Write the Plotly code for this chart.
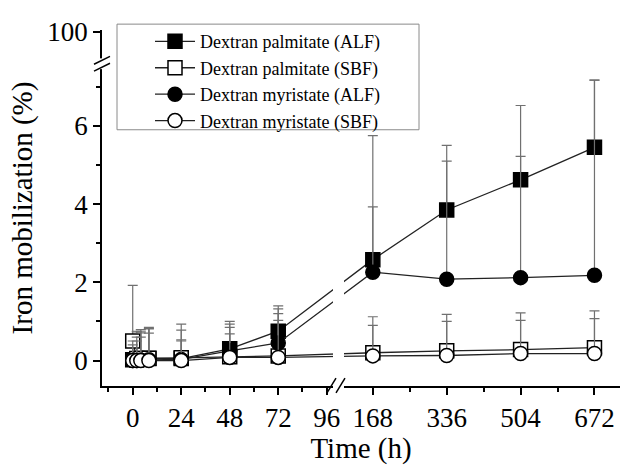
import plotly.graph_objects as go

# Sampling times (h)
time_h = [0, 2, 4, 8, 24, 48, 72, 168, 336, 504, 672]

# Iron mobilization (%) and upper standard deviations
pal_alf = [0.02, 0.03, 0.04, 0.05, 0.05, 0.30, 0.75, 2.58, 3.85, 4.62, 5.45]
pal_alf_err = [0.60, 0.70, 0.75, 0.80, 0.88, 0.70, 0.65, 3.17, 1.65, 1.90, 1.72]

pal_sbf = [0.50, 0.05, 0.05, 0.06, 0.07, 0.10, 0.12, 0.20, 0.25, 0.28, 0.33]
pal_sbf_err = [1.42, 0.70, 0.70, 0.75, 0.71, 0.75, 1.08, 0.92, 0.93, 0.94, 0.94]

myr_alf = [0.00, 0.00, 0.01, 0.02, 0.03, 0.25, 0.45, 2.26, 2.08, 2.12, 2.18]
myr_alf_err = [0.50, 0.60, 0.70, 0.80, 0.50, 0.68, 0.87, 1.67, 3.02, 3.10, 4.99]

myr_sbf = [0.00, 0.00, 0.00, 0.00, 0.00, 0.08, 0.08, 0.12, 0.13, 0.18, 0.18]
myr_sbf_err = [0.40, 0.50, 0.60, 0.70, 0.50, 0.60, 0.95, 0.78, 0.87, 0.85, 0.89]

series_names = [
    "Dextran palmitate (ALF)",
    "Dextran palmitate (SBF)",
    "Dextran myristate (ALF)",
    "Dextran myristate (SBF)",
]
series_values = [pal_alf, pal_sbf, myr_alf, myr_sbf]
series_errors = [pal_alf_err, pal_sbf_err, myr_alf_err, myr_sbf_err]
series_symbols = ["square", "square", "circle", "circle"]
series_fill = ["black", "white", "black", "white"]

x_major_ticks = [0, 24, 48, 72, 96, 168, 336, 504, 672]
x_minor_ticks = [-12, 12, 36, 60, 84, 252, 420, 588]
y_major_ticks = [0, 2, 4, 6]
y_minor_ticks = [1, 3, 5, 7]
y_top_tick = 100

# Broken time axis: 0-96 h at full scale, 168-672 h compressed
RIGHT_START = 168
RIGHT_OFFSET = 118.8
RIGHT_SCALE = 0.2176


def tpos(t):
    return t if t <= 100 else RIGHT_OFFSET + (t - RIGHT_START) * RIGHT_SCALE


# Broken value axis: 0-7.6 % linear, then a single 100 % mark
Y_TOP_POS = 8.4


def ypos(v):
    return v if v <= 7.6 else Y_TOP_POS


FONT = "Liberation Serif"

# plot box in pixels
W, H = 628, 465
L, R, T, B = 102, 620, 30, 394


def px(xp):
    return (xp - L) / (R - L)


def py(yp):
    return (B - yp) / (B - T)


fig = go.Figure()
for name, vals, errs, sym, fill in zip(series_names, series_values, series_errors,
                                       series_symbols, series_fill):
    fig.add_trace(go.Scatter(
        x=[tpos(t) for t in time_h],
        y=vals,
        name=name,
        mode="lines+markers",
        line=dict(color="#222222", width=1.3),
        marker=dict(symbol=sym, size=14, color=fill,
                    line=dict(color="black", width=1.5)),
        error_y=dict(type="data", symmetric=False, array=errs,
                     arrayminus=[0] * len(errs), color="#707070",
                     thickness=1.2, width=5),
    ))

shapes = []
# gap through the data lines and the x axis at the time break
shapes.append(dict(type="rect", xref="paper", yref="paper",
                   x0=px(333), x1=px(344), y0=py(402), y1=py(150),
                   fillcolor="white", line=dict(width=0), layer="above"))
for x0, x1 in [(327, 336), (336, 345)]:
    shapes.append(dict(type="line", xref="paper", yref="paper",
                       x0=px(x0), y0=py(401), x1=px(x1), y1=py(386),
                       line=dict(color="black", width=1.5), layer="above"))
# gap in the y axis at the value break
shapes.append(dict(type="rect", xref="paper", yref="paper",
                   x0=px(96), x1=px(109), y0=py(70), y1=py(59),
                   fillcolor="white", line=dict(width=0), layer="above"))
for y0, y1 in [(65, 57), (72, 64)]:
    shapes.append(dict(type="line", xref="paper", yref="paper",
                       x0=px(94), y0=py(y0), x1=px(110), y1=py(y1),
                       line=dict(color="black", width=1.5), layer="above"))
# legend frame
shapes.append(dict(type="rect", xref="paper", yref="paper",
                   x0=px(117), x1=px(419), y0=py(132), y1=py(24),
                   line=dict(color="#8a8a8a", width=1), fillcolor="rgba(0,0,0,0)",
                   layer="above"))

fig.update_layout(
    width=W, height=H,
    margin=dict(l=L, r=W - R, t=T, b=H - B),
    paper_bgcolor="white", plot_bgcolor="white",
    font=dict(family=FONT, color="black"),
    showlegend=True,
    legend=dict(x=px(150), y=py(23), xanchor="left", yanchor="top",
                bgcolor="rgba(0,0,0,0)", borderwidth=0,
                itemwidth=40, tracegroupgap=0,
                font=dict(family=FONT, size=18, color="black"),
                itemclick=False),
    shapes=shapes,
    xaxis=dict(
        range=[-15.2, 241.1],
        showgrid=False, zeroline=False,
        showline=True, linecolor="black", linewidth=1.5,
        ticks="outside", ticklen=7, tickwidth=1.5, tickcolor="black",
        tickvals=[tpos(t) for t in x_major_ticks],
        ticktext=[str(t) for t in x_major_ticks],
        tickfont=dict(family=FONT, size=27),
        minor=dict(tickvals=[tpos(t) for t in x_minor_ticks], ticks="outside",
                   ticklen=4, tickwidth=1.5, tickcolor="black"),
        title=dict(text="Time (h)", font=dict(family=FONT, size=29), standoff=4),
    ),
    yaxis=dict(
        range=[-0.65, 8.45],
        showgrid=False, zeroline=False,
        showline=True, linecolor="black", linewidth=1.5,
        ticks="outside", ticklen=7, tickwidth=1.5, tickcolor="black",
        tickvals=[ypos(v) for v in y_major_ticks + [y_top_tick]],
        ticktext=[str(v) for v in y_major_ticks + [y_top_tick]],
        tickfont=dict(family=FONT, size=27),
        minor=dict(tickvals=y_minor_ticks, ticks="outside",
                   ticklen=4, tickwidth=1.5, tickcolor="black"),
        title=dict(text="Iron mobilization (%)", font=dict(family=FONT, size=29),
                   standoff=6),
    ),
)

fig.write_html("out.html")
